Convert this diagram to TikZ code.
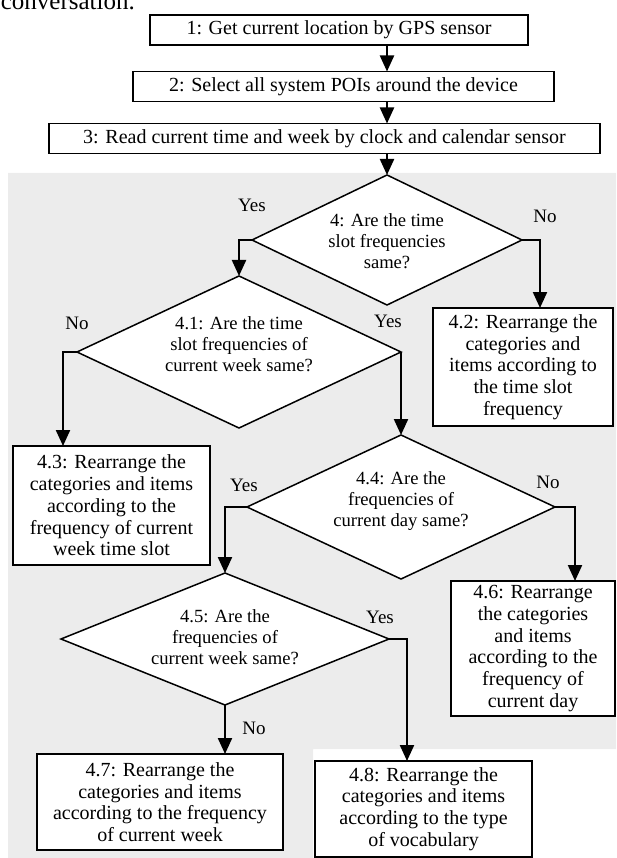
\documentclass[tikz,border=0pt]{standalone}
\usepackage{fontspec}
\setmainfont{Liberation Serif}
\usetikzlibrary{arrows.meta,shapes.geometric}
\begin{document}
\begin{tikzpicture}[x=1pt,y=-1pt,
  box/.style={draw, fill=white, line width=1.6pt, rectangle, inner sep=0pt, outer sep=0pt, align=center, font=\fontsize{20}{21.7}\selectfont},
  dec/.style={draw, fill=white, line width=1.5pt, diamond, inner sep=0pt, outer sep=0pt},
  dtext/.style={align=center, inner sep=0pt, font=\fontsize{18.6}{21}\selectfont},
  lbl/.style={font=\fontsize{19}{22}\selectfont, inner sep=0pt},
  arr/.style={line width=2.2pt, -{Triangle[length=16pt,width=14pt]}},
]
\useasboundingbox (0,0) rectangle (616,858);
\fill[gray!15] (8,173) -- (616,173) -- (616,749) -- (313,749) -- (313,858) -- (8,858) -- cycle;

\node[anchor=base east, inner sep=0pt, font=\fontsize{25}{28}\selectfont] (conv) at (135,10) {conversation.};

\node[box, minimum width=378pt, minimum height=30pt] (b1) at (339,30) {1: Get current location by GPS sensor};
\node[box, minimum width=421pt, minimum height=30pt] (b2) at (343.5,86.5) {2: Select all system POIs around the device};
\node[box, minimum width=551pt, minimum height=30pt] (b3) at (324.5,138.5) {3: Read current time and week by clock and calendar sensor};

\node[dec, minimum width=270pt, minimum height=130pt] (d4) at (387,240) {};
\node[dtext] (t4) at (387,241) {4: Are the time\\slot frequencies\\same?};
\node[dec, minimum width=324pt, minimum height=152pt] (d41) at (239,352) {};
\node[dtext] (t41) at (239,344) {4.1: Are the time\\slot frequencies of\\current week same?};
\node[dec, minimum width=308pt, minimum height=144pt] (d44) at (401,507) {};
\node[dtext] (t44) at (401,501) {4.4: Are the\\frequencies of\\current day same?};
\node[dec, minimum width=328pt, minimum height=132pt] (d45) at (225,639) {};
\node[dtext] (t45) at (225,637) {4.5: Are the\\frequencies of\\current week same?};

\node[box, minimum width=180pt, minimum height=118pt] (b42) at (523,367) {4.2: Rearrange the\\categories and\\items according to\\the time slot\\frequency};
\node[box, minimum width=197pt, minimum height=119pt] (b43) at (111.5,505.5) {4.3: Rearrange the\\categories and items\\according to the\\frequency of current\\week time slot};
\node[box, minimum width=164pt, minimum height=135pt] (b46) at (533,648.5) {4.6: Rearrange\\the categories\\and items\\according to the\\frequency of\\current day};
\node[box, minimum width=246pt, minimum height=96pt] (b47) at (160,802) {4.7: Rearrange the\\categories and items\\according to the frequency\\of current week};
\node[box, minimum width=217pt, minimum height=96pt] (b48) at (423.5,809) {4.8: Rearrange the\\categories and items\\according to the type\\of vocabulary};

\node[lbl] (y4) at (252,205) {Yes};
\node[lbl] (n4) at (545,216) {No};
\node[lbl] (n41) at (77,323) {No};
\node[lbl] (y41) at (388,321) {Yes};
\node[lbl] (y44) at (244,485) {Yes};
\node[lbl] (n44) at (548,482) {No};
\node[lbl] (y45) at (380,617) {Yes};
\node[lbl] (n45) at (254,728) {No};

\coordinate (k4) at (540,240);
\coordinate (k41) at (63,352);
\coordinate (k44) at (575,507);
\coordinate (k45) at (407,639);

\draw[arr] (d4.north |- b1.south) -- (d4.north |- b2.north);
\draw[arr] (d4.north |- b2.south) -- (d4.north |- b3.north);
\draw[arr] (d4.north |- b3.south) -- (d4.north);
\draw[arr] (d4.west) -| (d41.north);
\draw[arr] (d4.east) -- (k4) -- (k4 |- b42.north);
\draw[arr] (d41.west) -- (k41) -- (k41 |- b43.north);
\draw[arr] (d41.east) -- (d44.north);
\draw[arr] (d44.west) -| (d45.north);
\draw[arr] (d44.east) -- (k44) -- (k44 |- b46.north);
\draw[arr] (d45.south) -- (d45.south |- b47.north);
\draw[arr] (d45.east) -- (k45) -- (k45 |- b48.north);
\end{tikzpicture}
\end{document}
